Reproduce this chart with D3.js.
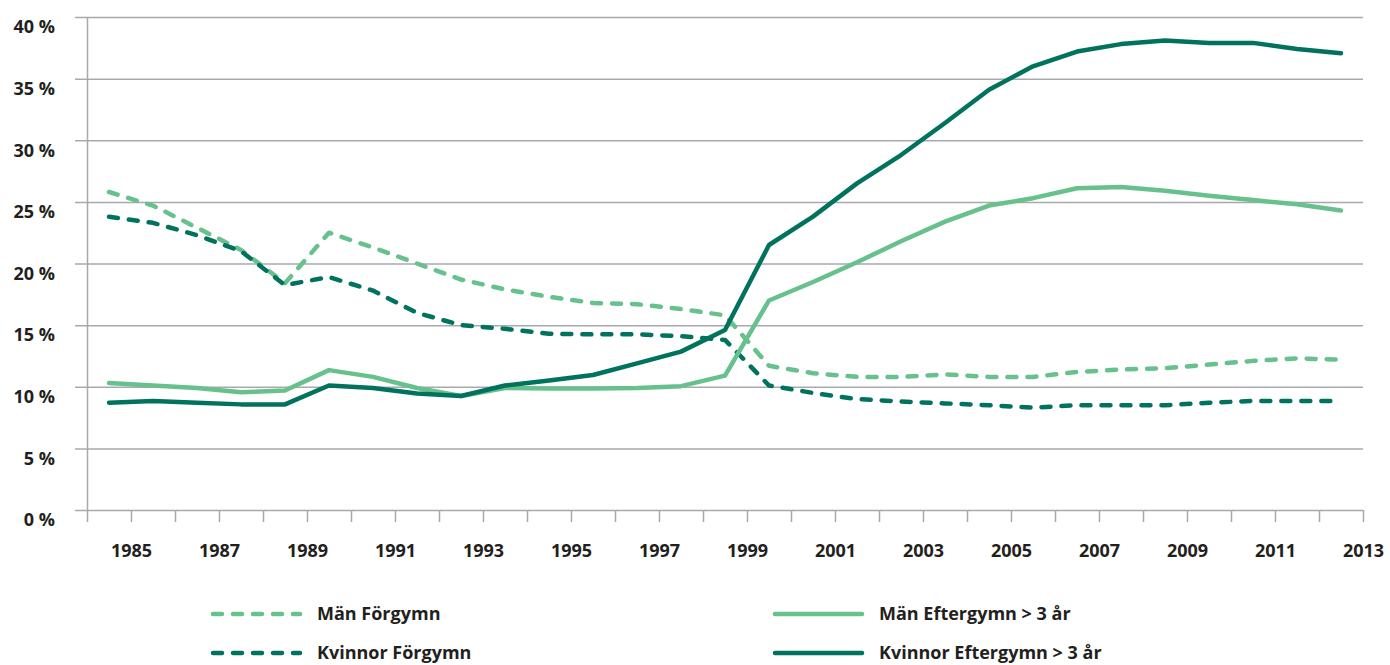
<!DOCTYPE html>
<html>
<head>
<meta charset="utf-8">
<script src="https://cdn.jsdelivr.net/npm/d3@7"></script>
<style>
  body { margin: 0; background: #fff; }
  svg text { font-family: "Open Sans", "DejaVu Sans", sans-serif; font-weight: bold; fill: #231f20; }
  .legend text { font-size: 18px; }
</style>
</head>
<body>
<script>
// years on the category axis
var years = d3.range(1985, 2014);

// series values, percent
var manForgymn = [25.8, 24.7, 22.9, 21.1, 18.4, 22.5, 21.3, 20.0, 18.7, 17.9, 17.3, 16.8, 16.7, 16.3, 15.8,
                  11.7, 11.1, 10.8, 10.8, 11.0, 10.8, 10.8, 11.2, 11.4, 11.5, 11.8, 12.1, 12.3, 12.2];
var kvinnorForgymn = [23.8, 23.3, 22.3, 21.0, 18.25, 18.9, 17.8, 16.0, 15.0, 14.7, 14.3, 14.25, 14.25, 14.1, 13.8,
                      10.1, 9.5, 9.0, 8.8, 8.65, 8.5, 8.3, 8.5, 8.5, 8.5, 8.7, 8.85, 8.85, 8.85];
var manEftergymn = [10.3, 10.1, 9.9, 9.55, 9.7, 11.35, 10.8, 9.9, 9.25, 9.9, 9.85, 9.85, 9.9, 10.05, 10.9,
                    17.0, 18.5, 20.1, 21.8, 23.4, 24.7, 25.3, 26.1, 26.2, 25.9, 25.5, 25.15, 24.8, 24.3];
var kvinnorEftergymn = [8.7, 8.85, 8.7, 8.57, 8.57, 10.1, 9.9, 9.45, 9.25, 10.1, 10.5, 10.95, 11.9, 12.85, 14.6,
                        21.5, 23.8, 26.5, 28.8, 31.4, 34.1, 36.0, 37.2, 37.8, 38.1, 37.9, 37.9, 37.4, 37.05];

var yTicks = d3.range(0, 41, 5);

var seriesNames = ["Män Förgymn", "Kvinnor Förgymn", "Män Eftergymn > 3 år", "Kvinnor Eftergymn > 3 år"];

var light = "#67c18c", dark = "#00725e";

var series = [
  {name: seriesNames[0], values: manForgymn, color: light, dashed: true},
  {name: seriesNames[1], values: kvinnorForgymn, color: dark, dashed: true},
  {name: seriesNames[2], values: manEftergymn, color: light, dashed: false},
  {name: seriesNames[3], values: kvinnorEftergymn, color: dark, dashed: false}
];

var W = 1390, H = 665;
var plotLeft = 87, plotRight = 1363, plotTop = 17, plotBottom = 510;

var svg = d3.select("body").append("svg")
  .attr("width", W)
  .attr("height", H);

// edges of the year bands: label of a year sits at the right edge of its band
var xEdge = d3.scaleLinear().domain([1984, 2013]).range([plotLeft, plotRight]);
var y = d3.scaleLinear().domain([0, 40]).range([plotBottom, plotTop]);

// gridlines
var grid = svg.append("g")
  .attr("transform", "translate(75,0)")
  .call(d3.axisRight(y).tickValues(yTicks).tickSize(plotRight - 75).tickFormat(""));
grid.select(".domain").remove();
grid.selectAll("line").attr("stroke", "#a7a9ac").attr("stroke-width", 1.5);

// y axis labels and vertical line
var yAxis = svg.append("g")
  .attr("transform", "translate(" + plotLeft + ",0)")
  .call(d3.axisLeft(y).tickValues(yTicks).tickSize(0).tickSizeOuter(0).tickPadding(32)
    .tickFormat(function(d) { return d + " %"; }));
yAxis.select(".domain").attr("stroke", "#a7a9ac").attr("stroke-width", 1.5);
yAxis.selectAll("text").attr("font-size", 18).attr("dy", "0.88em");

// x axis
var xAxis = svg.append("g")
  .attr("transform", "translate(0," + plotBottom + ")")
  .call(d3.axisBottom(xEdge).tickValues(d3.range(1984, 2014)).tickSize(12).tickSizeOuter(0).tickPadding(22)
    .tickFormat(function(d) { return d % 2 ? d : ""; }));
xAxis.select(".domain").remove();
xAxis.selectAll("line").attr("stroke", "#a7a9ac").attr("stroke-width", 1.5);
xAxis.selectAll("text").attr("font-size", 18);

// lines
var line = d3.line()
  .x(function(d, i) { return xEdge(years[i] - 0.5); })
  .y(function(d) { return y(d); });

series.forEach(function(s) {
  svg.append("path")
    .datum(s.values)
    .attr("fill", "none")
    .attr("stroke", s.color)
    .attr("stroke-width", 4.5)
    .attr("stroke-linejoin", "round")
    .attr("stroke-linecap", "round")
    .attr("stroke-dasharray", s.dashed ? "9,11" : null)
    .attr("d", line);
});

// legend
var legendPos = [[213, 614], [213, 653], [775, 614], [775, 653]];
var legend = svg.append("g").attr("class", "legend");
series.forEach(function(s, i) {
  var p = legendPos[i];
  legend.append("line")
    .attr("x1", p[0]).attr("x2", p[0] + 87)
    .attr("y1", p[1]).attr("y2", p[1])
    .attr("stroke", s.color)
    .attr("stroke-width", 4.5)
    .attr("stroke-linecap", "round")
    .attr("stroke-dasharray", s.dashed ? "9,11" : null);
  legend.append("text")
    .attr("x", p[0] + 104)
    .attr("y", p[1])
    .attr("dy", "0.33em")
    .text(s.name);
});
</script>
</body>
</html>
